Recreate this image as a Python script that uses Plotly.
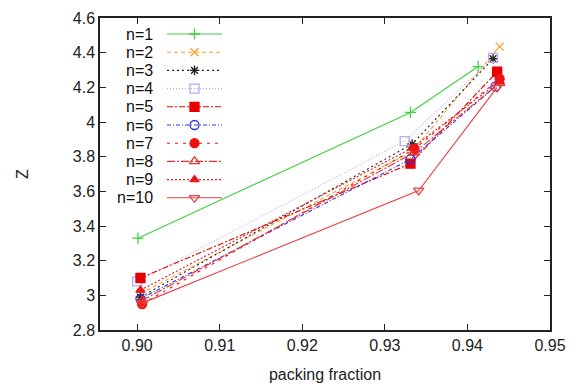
import plotly.graph_objects as go

# ---- data ----
labels = ["n=1", "n=2", "n=3", "n=4", "n=5", "n=6", "n=7", "n=8", "n=9", "n=10"]
pf_n1 = [0.9001, 0.9331, 0.9413]
z_n1 = [3.33, 4.055, 4.32]
pf_n2 = [0.9004, 0.9333, 0.9439]
z_n2 = [3.01, 3.83, 4.435]
pf_n3 = [0.9004, 0.9333, 0.9431]
z_n3 = [2.99, 3.873, 4.365]
pf_n4 = [0.9000, 0.9324, 0.9431]
z_n4 = [3.08, 3.89, 4.37]
pf_n5 = [0.9004, 0.9331, 0.9436]
z_n5 = [3.10, 3.76, 4.29]
pf_n6 = [0.9004, 0.9331, 0.9434]
z_n6 = [2.98, 3.785, 4.205]
pf_n7 = [0.9006, 0.9336, 0.9439]
z_n7 = [2.95, 3.845, 4.25]
pf_n8 = [0.9006, 0.9336, 0.9439]
z_n8 = [2.97, 3.825, 4.225]
pf_n9 = [0.9004, 0.9333, 0.9439]
z_n9 = [3.03, 3.85, 4.235]
pf_n10 = [0.9006, 0.9341, 0.9436]
z_n10 = [2.955, 3.605, 4.20]

xs = [pf_n1, pf_n2, pf_n3, pf_n4, pf_n5, pf_n6, pf_n7, pf_n8, pf_n9, pf_n10]
ys = [z_n1, z_n2, z_n3, z_n4, z_n5, z_n6, z_n7, z_n8, z_n9, z_n10]

x_ticks = [0.90, 0.91, 0.92, 0.93, 0.94, 0.95]
y_ticks = [2.8, 3.0, 3.2, 3.4, 3.6, 3.8, 4.0, 4.2, 4.4, 4.6]

# ---- styles ----
colors = ["#40d040", "#ffa030", "#202020", "#c0a8f0", "#e80000",
          "#3030e0", "#f01010", "#e83030", "#e81818", "#e84040"]
dashes = ["solid", "4px,3px", "2px,3px", "1px,2px", "6px,2px,2px,2px",
          "4px,2px,1px,2px", "3px,5px", "8px,2px,2px,2px", "2px,2px", "solid"]
symbols = ["cross-thin-open", "x-thin-open", "asterisk-open", "square-open", "square",
           "circle-open", "circle", "triangle-up-open", "triangle-up", "triangle-down-open"]
sizes = [8, 8, 8, 9, 9, 9, 9, 9, 8, 9]

fig = go.Figure()
for i in range(len(labels)):
    fig.add_trace(go.Scatter(
        x=xs[i], y=ys[i], mode="lines+markers", name=labels[i],
        line=dict(color=colors[i], width=1.1, dash=dashes[i]),
        marker=dict(symbol=symbols[i], size=sizes[i], color=colors[i],
                    line=dict(color=colors[i], width=1.3)),
        showlegend=False,
    ))

# ---- custom gnuplot-style legend (text left, sample right) ----
# target plot-area pixel box in the screenshot
L, R, T, B = 100, 550, 18, 330
W, H = 584, 391
OFF = 8  # default body margin of the html page
row0, row_h = 34, 18.2
samp_x0, samp_x1, text_x = 167, 222, 155
annotations = []
for i in range(len(labels)):
    py = row0 + i * row_h
    fig.add_trace(go.Scatter(
        x=[samp_x0, samp_x1], y=[py, py], mode="lines", xaxis="x2", yaxis="y2",
        line=dict(color=colors[i], width=1.1, dash=dashes[i]),
        showlegend=False, hoverinfo="skip"))
    fig.add_trace(go.Scatter(
        x=[(samp_x0 + samp_x1) / 2], y=[py], mode="markers", xaxis="x2", yaxis="y2",
        marker=dict(symbol=symbols[i], size=sizes[i], color=colors[i],
                    line=dict(color=colors[i], width=1.3)),
        showlegend=False, hoverinfo="skip"))
    annotations.append(dict(
        x=text_x, y=py, xref="x2", yref="y2", text=labels[i], showarrow=False,
        xanchor="right", yanchor="middle",
        font=dict(family="Liberation Sans, Arial, sans-serif", size=16, color="#111")))

font = dict(family="Liberation Sans, Arial, sans-serif", size=16, color="#222")
fig.update_layout(
    width=W, height=H,
    margin=dict(l=L - OFF, r=W + OFF - R, t=T - OFF, b=H + OFF - B),
    paper_bgcolor="white", plot_bgcolor="white",
    font=font,
    annotations=annotations,
    xaxis=dict(range=[0.8955, 0.95], tickvals=x_ticks, tickformat=".2f",
               ticks="inside", ticklen=6, tickcolor="#222", tickwidth=1.2,
               showline=True, linecolor="#222", linewidth=1.5, mirror="ticks",
               showgrid=False, zeroline=False, automargin=False,
               ticklabeloverflow="allow",
               title=dict(text="packing fraction", font=font, standoff=16)),
    yaxis=dict(range=[2.8, 4.6], tickvals=y_ticks, tickformat="~g",
               ticks="inside", ticklen=6, tickcolor="#222", tickwidth=1.2,
               showline=True, linecolor="#222", linewidth=1.5, mirror="ticks",
               showgrid=False, zeroline=False, automargin=False,
               ticklabeloverflow="allow",
               title=dict(text="Z", font=font, standoff=40)),
    xaxis2=dict(domain=[0, 1], range=[L, R], overlaying="x", visible=False,
                anchor="y2", fixedrange=True),
    yaxis2=dict(domain=[0, 1], range=[B, T], overlaying="y", visible=False,
                anchor="x2", fixedrange=True),
)

fig.write_html("out.html")
